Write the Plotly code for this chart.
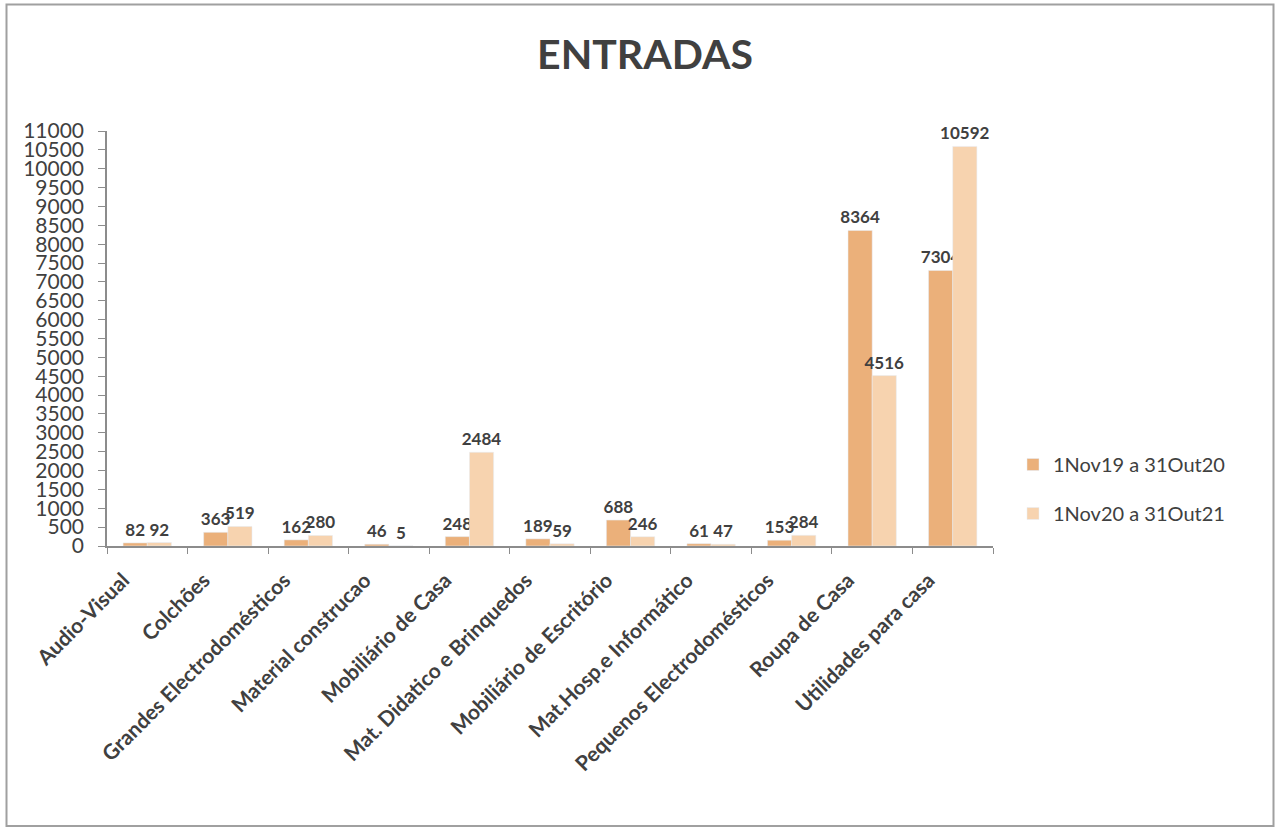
import plotly.graph_objects as go

categories = ["Audio-Visual", "Colchões", "Grandes Electrodomésticos", "Material construcao",
              "Mobiliário de Casa", "Mat. Didatico e Brinquedos", "Mobiliário de Escritório",
              "Mat.Hosp.e Informático", "Pequenos Electrodomésticos", "Roupa de Casa",
              "Utilidades para casa"]
series1_name = "1Nov19 a 31Out20"
series2_name = "1Nov20 a 31Out21"
series1 = [82, 363, 162, 46, 248, 189, 688, 61, 153, 8364, 7304]
series2 = [92, 519, 280, 5, 2484, 59, 246, 47, 284, 4516, 10592]
y_ticks = list(range(0, 11001, 500))
y_tick_text = [str(v) for v in y_ticks]

W, H = 1278, 828
L, R, T, B = 107, 1278 - 993, 131, 828 - 546
pw, ph = W - L - R, H - T - B

def px(x):
    return (x - L) / pw

def py(y):
    return (H - B - y) / ph

font = "Lato"
dark = "#404040"

fig = go.Figure()
fig.add_bar(x=categories, y=series1, name=series1_name, marker_color="#EBB07A",
            legendgroup="a",
            text=[str(v) for v in series1], textposition="outside", constraintext="none",
            cliponaxis=False, textfont=dict(family=font, size=17, color=dark, weight="bold"))
fig.add_bar(x=categories, y=series2, name=series2_name, marker_color="#F7D3AF",
            legendgroup="b",
            text=[str(v) for v in series2], textposition="outside", constraintext="none",
            cliponaxis=False, textfont=dict(family=font, size=17, color=dark, weight="bold"))

fig.update_layout(
    width=W, height=H,
    margin=dict(l=L, r=R, t=T, b=B),
    paper_bgcolor="white", plot_bgcolor="white",
    barmode="group", bargap=0.4, bargroupgap=0,
    font=dict(family=font, color=dark),
    title=dict(text="<b>ENTRADAS</b>", x=px(645), xref="paper", xanchor="center",
               y=1 - 55 / H, yanchor="middle", font=dict(family=font, size=41, color=dark)),
    showlegend=True,
    legend=dict(x=px(1013), y=py(489), xanchor="left", yanchor="middle",
                font=dict(family=font, size=20, color=dark), tracegroupgap=20,
                traceorder="grouped", itemwidth=30, bgcolor="rgba(0,0,0,0)"),
    shapes=[dict(type="rect", xref="paper", yref="paper",
                 x0=px(6.5), x1=px(1273.5), y0=py(826), y1=py(4.5),
                 line=dict(color="#a0a0a0", width=2), fillcolor="rgba(0,0,0,0)")],
)
fig.update_xaxes(showline=True, linecolor="#8c8c8c", linewidth=1.5, ticks="outside",
                 tickson="boundaries", ticklen=6, tickcolor="#8c8c8c", tickangle=-45,
                 ticklabelshift=-24, ticklabelstandoff=12,
                 tickfont=dict(family=font, size=21, color=dark, weight="bold"), showgrid=False)
fig.update_yaxes(range=[0, 11000], tickvals=y_ticks, ticktext=y_tick_text, showline=True,
                 linecolor="#8c8c8c", linewidth=1.5, ticks="outside", ticklen=7,
                 tickcolor="#8c8c8c", ticklabelstandoff=10,
                 tickfont=dict(family=font, size=21, color=dark),
                 showgrid=False, zeroline=False)

fig.write_html("out.html", config={"displayModeBar": False},
               post_script="document.body.style.margin='0';document.body.style.overflow='hidden';")
